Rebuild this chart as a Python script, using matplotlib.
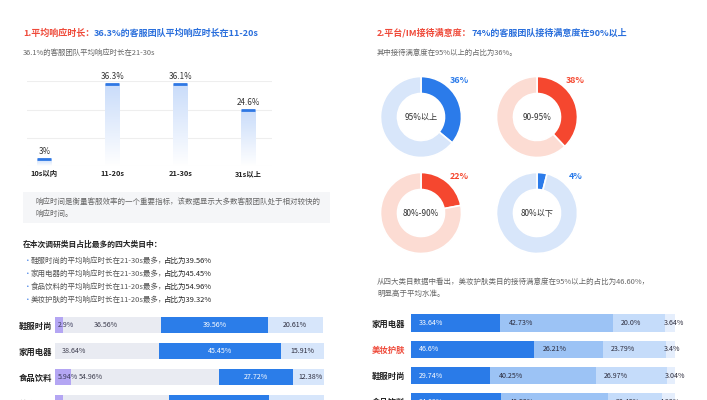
import numpy as np
import matplotlib
matplotlib.use("Agg")
import matplotlib.pyplot as plt
from matplotlib.colors import LinearSegmentedColormap
from matplotlib.patches import Rectangle
from matplotlib.text import Annotation

plt.rcParams['font.family'] = ['Noto Sans CJK SC', 'DejaVu Sans']

# ---------------- data ----------------
time_cats = ['10s以内', '11-20s', '21-30s', '31s以上']
time_share = [3, 36.3, 36.1, 24.6]

donut_labels = ['95%以上', '90-95%', '80%-90%', '80%以下']
donut_values = [36, 38, 22, 4]

resp_cats = ['鞋服时尚', '家用电器', '食品饮料', '美妆护肤']
resp_10 = [2.9, 0, 5.94, 2.99]
resp_11_20 = [36.56, 38.64, 54.96, 39.32]
resp_21_30 = [39.56, 45.45, 27.72, 37.29]
resp_31 = [20.61, 15.91, 12.38, 20.40]

sat_cats = ['家用电器', '美妆护肤', '鞋服时尚', '食品饮料']
sat_95 = [33.64, 46.6, 29.74, 34.09]
sat_90_95 = [42.73, 26.21, 40.25, 40.53]
sat_80_90 = [20.0, 23.79, 26.97, 20.45]
sat_80 = [3.64, 3.4, 3.04, 4.93]

bullets = [('鞋服时尚的平均响应时长在21-30s最多，', '占比为39.56%'),
           ('家用电器的平均响应时长在21-30s最多，', '占比为45.45%'),
           ('食品饮料的平均响应时长在11-20s最多，', '占比为54.96%'),
           ('美妆护肤的平均响应时长在11-20s最多，', '占比为39.32%')]

# ---------------- layout helpers ----------------
W, H = 707, 400
fig = plt.figure(figsize=(W / 100, H / 100), dpi=100)
fig.patch.set_facecolor('white')


def fx(x):
    return x / W


def fy(y):
    return 1 - y / H


def add_ax(x0, y0, x1, y1):
    return fig.add_axes([fx(x0), fy(y1), (x1 - x0) / W, (y1 - y0) / H])


RED = '#ef4a3a'
BLUE = '#2a6fdc'
GRAY = '#666666'
DARK = '#333333'


def two_color(x, y, t1, c1, t2, c2, size, weight='medium', w2=None, dx=0):
    a = fig.text(fx(x), fy(y), t1, color=c1, fontsize=size, ha='left', va='center', weight=weight)
    ann = Annotation(t2, xy=(1, 0.5), xycoords=a, xytext=(dx, 0), textcoords='offset points',
                     ha='left', va='center',
                     color=c2, fontsize=size, weight=w2 or weight, annotation_clip=False)
    fig.add_artist(ann)
    return a, ann


# ---------------- left: titles ----------------
two_color(23, 33, '1.平均响应时长：', RED, '36.3%的客服团队平均响应时长在11-20s', BLUE, 6.5, weight='bold')
fig.text(fx(23), fy(53), '36.1%的客服团队平均响应时长在21-30s', color=GRAY, fontsize=5.35, va='center')

# ---------------- left: gradient bar chart ----------------
ax = add_ax(27, 81.3, 272, 166)
xs = np.arange(len(time_cats))
bw = 0.206
bars = ax.bar(xs, time_share, width=bw, color='none', edgecolor='none', zorder=2)
cmap = LinearSegmentedColormap.from_list('g', ['#ffffff', '#c9dcfa'])
grad = np.linspace(0, 1, 256).reshape(-1, 1)
for b in bars:
    im = ax.imshow(grad, extent=[b.get_x(), b.get_x() + b.get_width(), 0, b.get_height()],
                   origin='lower', cmap=cmap, aspect='auto', zorder=2)
    im.set_clip_path(b)
ax.hlines(time_share, xs - bw / 2, xs + bw / 2, color='#2f78e4', lw=2.0, zorder=3)
for xi, v in zip(xs, time_share):
    ax.annotate(f'{v}%', (xi, v), xytext=(0, 2.5), textcoords='offset points',
                ha='center', va='bottom', fontsize=5.8, color=DARK)
ax.set_xlim(-0.257, 3.346)
ax.set_ylim(0, 37.5)
ax.set_yticks([0, 12.5, 25, 37.5])
ax.yaxis.grid(True, color='#eeeeee', lw=0.8)
ax.set_axisbelow(True)
ax.tick_params(axis='y', length=0, labelleft=False)
ax.set_xticks(xs)
ax.set_xticklabels(time_cats, fontsize=5.3, color='#222222', weight='bold')
ax.tick_params(axis='x', length=0, pad=3)
for s in ax.spines.values():
    s.set_visible(False)
ax.patch.set_alpha(0)

# ---------------- left: gray note box ----------------
fig.patches.append(Rectangle((fx(23), fy(223)), (330 - 23) / W, (223 - 192) / H,
                             transform=fig.transFigure, facecolor='#f5f6f8', edgecolor='none', zorder=0))
fig.text(fx(35), fy(203), '响应时间是衡量客服效率的一个重要指标，该数据显示大多数客服团队处于相对较快的',
         color=GRAY, fontsize=5.4, va='center')
fig.text(fx(35), fy(214), '响应时间。', color=GRAY, fontsize=5.4, va='center')

fig.text(fx(23), fy(244), '在本次调研类目占比最多的四大类目中：', color='#222222', fontsize=5.6,
         va='center', weight='bold')
for i, (t1, t2) in enumerate(bullets):
    y = 261 + 13 * i
    fig.text(fx(24), fy(y), '•', color='#4a86e8', fontsize=5.6, va='center')
    two_color(31, y, t1, '#555555', t2, '#222222', 5.4, weight='normal', w2='normal', dx=-1.5)

# ---------------- left: stacked bars ----------------
ax2 = add_ax(55, 312, 324, 420)
ys = np.arange(len(resp_cats))
bh = 0.65
left_cols = ['#b4a6f3', '#e9ebf2', '#2b7de9', '#d7e6fb']
series = [resp_10, resp_11_20, resp_21_30, resp_31]
cum = np.zeros(len(resp_cats))
gray_dx_px = [31, 7, 8, 34]
for k, (vals, col) in enumerate(zip(series, left_cols)):
    vals = np.array(vals)
    ax2.barh(ys, vals, left=cum, height=bh, color=col, edgecolor='none')
    for i, v in enumerate(vals):
        if v <= 0:
            continue
        lab = f'{v}%'
        if k == 0:
            ax2.annotate(lab, (cum[i], ys[i]), xytext=(2.2, 0), textcoords='offset points',
                         ha='left', va='center', fontsize=5.1, color='#3b3b5c')
        elif k == 1:
            ax2.annotate(lab, (cum[i], ys[i]), xytext=(gray_dx_px[i] * 0.72, 0), textcoords='offset points',
                         ha='left', va='center', fontsize=5.1, color='#3b3b4c')
        elif k == 2:
            ax2.text(cum[i] + v / 2, ys[i], lab, ha='center', va='center', fontsize=5.1, color='white')
        else:
            ax2.text(cum[i] + v / 2, ys[i], lab, ha='center', va='center', fontsize=5.1, color='#2b2b3c')
    cum += vals
ax2.set_xlim(0, 100)
ax2.set_ylim(3.654, -0.5)
ax2.set_yticks(ys)
ax2.set_yticklabels(resp_cats, fontsize=6.0, color='#222222', weight='bold')
ax2.tick_params(axis='y', length=0, pad=2.2)
ax2.set_xticks([])
for s in ax2.spines.values():
    s.set_visible(False)
ax2.patch.set_alpha(0)

# ---------------- right: titles ----------------
two_color(377, 33, '2.平台/IM接待满意度：', RED, '74%的客服团队接待满意度在90%以上', BLUE, 6.5, weight='bold')
fig.text(fx(377), fy(53), '其中接待满意度在95%以上的占比为36%。', color=GRAY, fontsize=5.35, va='center')

# ---------------- right: donuts ----------------
centers = [(421, 117), (537, 117), (421, 213), (537, 213)]
strong = ['#2b7bea', '#f5472f', '#f5472f', '#2b7bea']
light = ['#d8e6fa', '#fcdcd3', '#fcdcd3', '#d8e6fa']
R = 40.5
for (cx, cy), v, lab, c1, c2 in zip(centers, donut_values, donut_labels, strong, light):
    axd = add_ax(cx - R, cy - R, cx + R, cy + R)
    axd.pie([v, 100 - v], colors=[c1, c2], startangle=90, counterclock=False, radius=1,
            wedgeprops=dict(width=0.42, edgecolor='white', linewidth=1.2))
    axd.set_xlim(-1, 1)
    axd.set_ylim(-1, 1)
    axd.set_aspect('equal')
    axd.axis('off')
    axd.text(0, 0, lab, ha='center', va='center', fontsize=5.9, color=DARK)
    axd.text(0.95, 0.91, f'{v}%', ha='center', va='center', fontsize=6.4, color=c1, weight='bold')

fig.text(fx(377), fy(282), '从四大类目数据中看出，美妆护肤类目的接待满意度在95%以上的占比为46.60%，',
         color=GRAY, fontsize=5.4, va='center')
fig.text(fx(377), fy(294), '明显高于平均水准。', color=GRAY, fontsize=5.4, va='center')

# ---------------- right: stacked bars ----------------
ax3 = add_ax(411, 310, 675, 420)
ys3 = np.arange(len(sat_cats))
right_cols = ['#2a7be8', '#9cc3f5', '#c5dcfa', '#e5eefc']
series3 = [sat_95, sat_90_95, sat_80_90, sat_80]
dx_px = [8, 9, 8, -2]
txt_cols = ['white', '#2b2b3c', '#2b2b3c', '#2b2b3c']
cum = np.zeros(len(sat_cats))
for k, (vals, col) in enumerate(zip(series3, right_cols)):
    vals = np.array(vals)
    ax3.barh(ys3, vals, left=cum, height=0.65, color=col, edgecolor='none')
    for i, v in enumerate(vals):
        ax3.annotate(f'{v}%', (cum[i], ys3[i]), xytext=(dx_px[k] * 0.72, 0), textcoords='offset points',
                     ha='left', va='center', fontsize=5.1, color=txt_cols[k], annotation_clip=False)
    cum += vals
ax3.set_xlim(0, 100)
ax3.set_ylim(3.688, -0.494)
ax3.set_yticks(ys3)
ax3.set_yticklabels(sat_cats, fontsize=6.0, color='#222222', weight='bold')
for t, c in zip(ax3.get_yticklabels(), sat_cats):
    if c == '美妆护肤':
        t.set_color(RED)
ax3.tick_params(axis='y', length=0, pad=4.3)
ax3.set_xticks([])
for s in ax3.spines.values():
    s.set_visible(False)
ax3.patch.set_alpha(0)

fig.savefig('out.png', dpi=100, facecolor='white')
